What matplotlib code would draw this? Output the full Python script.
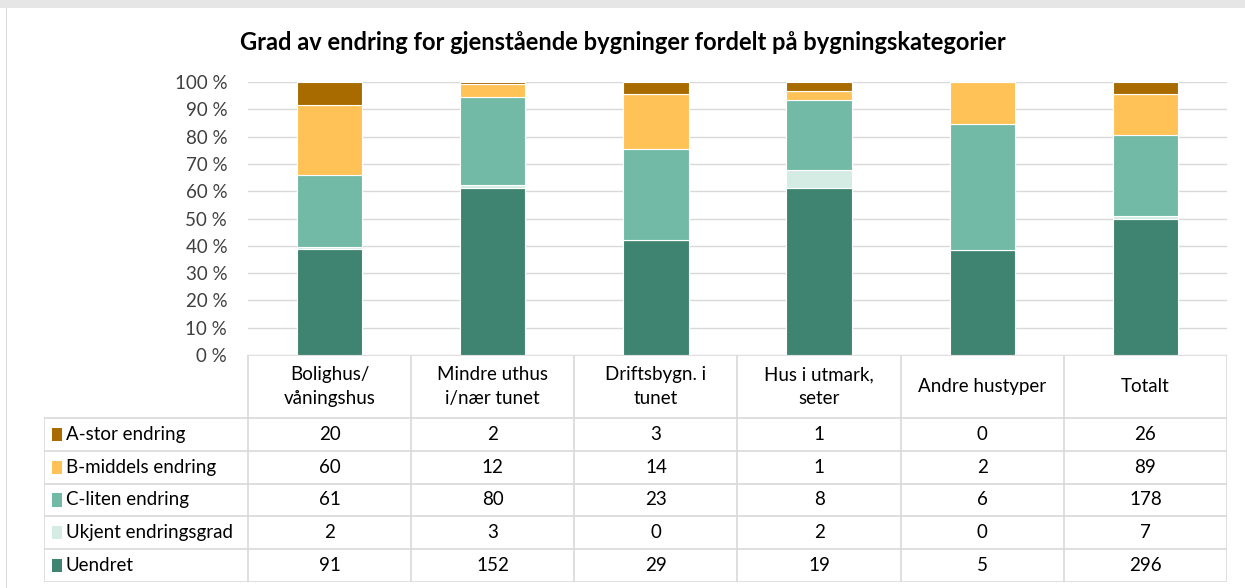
import numpy as np
import matplotlib
matplotlib.use("Agg")
import matplotlib.pyplot as plt
from matplotlib.patches import Rectangle

plt.rcParams['font.family'] = ['Lato', 'DejaVu Sans']

categories = ["Bolighus/\nvåningshus", "Mindre uthus\ni/nær tunet", "Driftsbygn. i\ntunet",
              "Hus i utmark,\nseter", "Andre hustyper", "Totalt"]
series = ["A-stor endring", "B-middels endring", "C-liten endring", "Ukjent endringsgrad", "Uendret"]
a_stor = [20, 2, 3, 1, 0, 26]
b_middels = [60, 12, 14, 1, 2, 89]
c_liten = [61, 80, 23, 8, 6, 178]
ukjent = [2, 3, 0, 2, 0, 7]
uendret = [91, 152, 29, 19, 5, 296]
colors = ["#A86B00", "#FFC257", "#72BAA6", "#D4ECE4", "#3E8470"]

counts = np.array([a_stor, b_middels, c_liten, ukjent, uendret], dtype=float)
pct = counts / counts.sum(axis=0) * 100

W, H = 1245, 588
fig = plt.figure(figsize=(W / 100, H / 100), dpi=100)

# screenshot frame
fig.patches.append(Rectangle((0, 1 - 8 / H), 1, 8 / H, transform=fig.transFigure,
                             facecolor="#E6E6E6", edgecolor="none"))
fig.patches.append(Rectangle((6 / W, 0), 1.2 / W, 1 - 8 / H, transform=fig.transFigure,
                             facecolor="#D9D9D9", edgecolor="none"))

fig.text(0.5, 1 - 42 / H, "Grad av endring for gjenstående bygninger fordelt på bygningskategorier",
         ha="center", va="center", fontsize=17, fontweight="bold", color="#000000")

fs = 13.5
x_left, x_right = 248, 1227
y_top, y_zero, y_bot = 82, 355, 582
ax = fig.add_axes([x_left / W, 1 - y_zero / H, (x_right - x_left) / W, (y_zero - y_top) / H])
x = np.arange(len(categories))
# stack from bottom: Uendret, Ukjent, C, B, A
bottom = np.zeros(len(categories))
for i in range(len(series) - 1, -1, -1):
    ax.bar(x, pct[i], 0.4, bottom=bottom, color=colors[i], edgecolor="white", linewidth=0.8, zorder=3)
    bottom += pct[i]
ax.set_xlim(-0.5, len(categories) - 0.5)
ax.set_ylim(0, 100)
ax.set_yticks(np.arange(0, 101, 10))
ax.set_yticklabels([f"{v} %" for v in range(0, 101, 10)], fontsize=fs, color="#404040")
ax.set_xticks([])
ax.grid(axis="y", color="#D9D9D9", linewidth=1, zorder=0)
for s in ax.spines.values():
    s.set_visible(False)
ax.tick_params(axis="y", length=0, pad=15)

# data table
col_w = 163.2
leg_units = (x_left - 44) / col_w
tax = fig.add_axes([44 / W, 1 - y_bot / H, (x_right - 44) / W, (y_bot - y_zero) / H])
hdr = 1.92
n_rows = len(series)
tax.set_xlim(-0.5 - leg_units, len(categories) - 0.5)
tax.set_ylim(hdr + n_rows, 0)
tax.axis("off")
gc = "#D9D9D9"
# header cells
for j in range(len(categories) + 1):
    tax.plot([j - 0.5, j - 0.5], [0, hdr + n_rows], color=gc, lw=1.2)
tax.plot([-0.5, len(categories) - 0.5], [0, 0], color=gc, lw=1.2)
tax.plot([-0.5 - leg_units, -0.5 - leg_units], [hdr, hdr + n_rows], color=gc, lw=1.2)
for r in range(n_rows + 1):
    tax.plot([-0.5 - leg_units, len(categories) - 0.5], [hdr + r, hdr + r], color=gc, lw=1.2)
for j, c in enumerate(categories):
    tax.text(j, hdr / 2, c, ha="center", va="center", fontsize=fs, color="#000000", linespacing=1.45)
for i, s in enumerate(series):
    yc = hdr + i + 0.5
    tax.add_patch(Rectangle((-0.5 - leg_units + 8 / col_w, yc - 0.2), 10 / col_w, 0.4,
                            facecolor=colors[i], edgecolor="none"))
    tax.text(-0.5 - leg_units + 22 / col_w, yc, s, ha="left", va="center", fontsize=fs, color="#000000")
    for j in range(len(categories)):
        tax.text(j, yc, f"{int(counts[i, j])}", ha="center", va="center", fontsize=fs, color="#000000")

fig.savefig("out.png", dpi=100)
